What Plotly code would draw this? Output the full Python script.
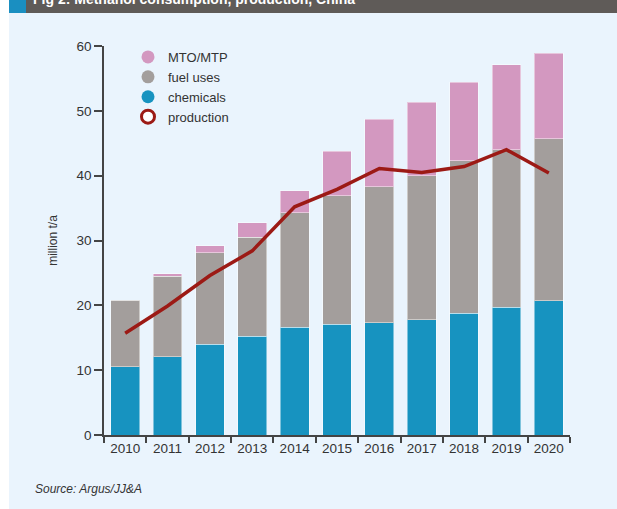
import plotly.graph_objects as go

years = ["2010", "2011", "2012", "2013", "2014", "2015", "2016", "2017", "2018", "2019", "2020"]
chemicals = [10.5, 12.1, 14.0, 15.2, 16.6, 17.1, 17.3, 17.8, 18.8, 19.7, 20.7]
fuel_top = [20.8, 24.5, 28.1, 30.5, 34.3, 36.9, 38.3, 40.0, 42.3, 44.0, 45.7]
total_top = [20.8, 24.9, 29.2, 32.7, 37.7, 43.8, 48.7, 51.3, 54.4, 57.1, 58.9]
production = [15.7, 19.9, 24.6, 28.4, 35.2, 37.9, 41.1, 40.5, 41.4, 44.0, 40.4]

fuel_uses = [round(f - c, 2) for f, c in zip(fuel_top, chemicals)]
mto_mtp = [round(t - f, 2) for t, f in zip(total_top, fuel_top)]

C_MTO = "#D398C0"
C_FUEL = "#A39E9C"
C_CHEM = "#1793C0"
C_PROD = "#9C1A15"
BG = "#EAF4FD"
FONT = "Liberation Sans, Arial, sans-serif"

W, H = 617, 509
L, R, T, B = 104, 47, 46, 74
PW, PH = W - L - R, H - T - B


def px(x):
    return (x - L) / PW


def py(y):
    return (H - B - y) / PH


fig = go.Figure()
edge = dict(color="rgba(255,255,255,0.45)", width=1)
fig.add_trace(go.Bar(x=years, y=chemicals, name="chemicals", marker=dict(color=C_CHEM, line=edge), showlegend=False))
fig.add_trace(go.Bar(x=years, y=fuel_uses, name="fuel uses", marker=dict(color=C_FUEL, line=edge), showlegend=False))
fig.add_trace(go.Bar(x=years, y=mto_mtp, name="MTO/MTP", marker=dict(color=C_MTO, line=edge), showlegend=False))
fig.add_trace(go.Scatter(x=years, y=production, mode="lines", name="production",
                         line=dict(color=C_PROD, width=3.5), showlegend=False))

# legend-only entries (circle markers)
for i, (name, col, lcol) in enumerate([("MTO/MTP", C_MTO, C_MTO), ("fuel uses", C_FUEL, C_FUEL),
                                       ("chemicals", C_CHEM, C_CHEM), ("production", "white", C_PROD)]):
    fig.add_trace(go.Scatter(x=[None], y=[None], mode="markers", name=name, legendgroup="g%d" % i,
                             marker=dict(symbol="circle", size=13, color=col,
                                         line=dict(color=lcol, width=3 if name == "production" else 0))))

shapes = [
    dict(type="rect", xref="paper", yref="paper", x0=px(-2), x1=px(9), y0=py(H + 2), y1=py(-2),
         fillcolor="white", line=dict(width=0), layer="below"),
    dict(type="rect", xref="paper", yref="paper", x0=px(9), x1=px(26), y0=py(13), y1=py(-2),
         fillcolor="#1A8FC1", line=dict(width=0), layer="below"),
    dict(type="rect", xref="paper", yref="paper", x0=px(26), x1=px(W + 2), y0=py(13), y1=py(-2),
         fillcolor="#5F5B58", line=dict(width=0), layer="below"),
]

annotations = [
    dict(text="<b>Fig 2: Methanol consumption, production, China</b>", xref="paper", yref="paper",
         x=px(31), y=py(-1), xanchor="left", yanchor="middle", showarrow=False,
         font=dict(family=FONT, size=14, color="white")),
    dict(text="<i>Source: Argus/JJ&A</i>", xref="paper", yref="paper",
         x=px(33), y=py(489), xanchor="left", yanchor="middle", showarrow=False,
         font=dict(family=FONT, size=12, color="#333333")),
]

fig.update_layout(
    width=W, height=H,
    margin=dict(l=L, r=R, t=T, b=B, pad=0),
    paper_bgcolor=BG, plot_bgcolor=BG,
    barmode="stack", bargap=0.32,
    font=dict(family=FONT, size=13, color="#333333"),
    shapes=shapes, annotations=annotations,
    legend=dict(x=px(128), y=py(42), xanchor="left", yanchor="top", traceorder="normal",
                bgcolor="rgba(0,0,0,0)", font=dict(size=13, color="#333333"),
                tracegroupgap=2, itemsizing="trace"),
    xaxis=dict(showline=True, linecolor="#444444", linewidth=1.5, ticks="outside",
               tickson="boundaries", ticklen=6, tickcolor="#444444", tickwidth=1.5,
               showgrid=False, tickfont=dict(size=13.5), fixedrange=True),
    yaxis=dict(range=[0, 60], dtick=10, showline=True, linecolor="#444444", linewidth=1.5,
               ticks="outside", ticklen=8, tickcolor="#444444", tickwidth=1.5,
               showgrid=False, zeroline=False, tickfont=dict(size=13.5),
               title=dict(text="million t/a", font=dict(size=12), standoff=16), fixedrange=True),
)

fig.write_html("out.html", config={"displayModeBar": False},
               post_script="document.body.style.margin='0';document.body.style.overflow='hidden';")
